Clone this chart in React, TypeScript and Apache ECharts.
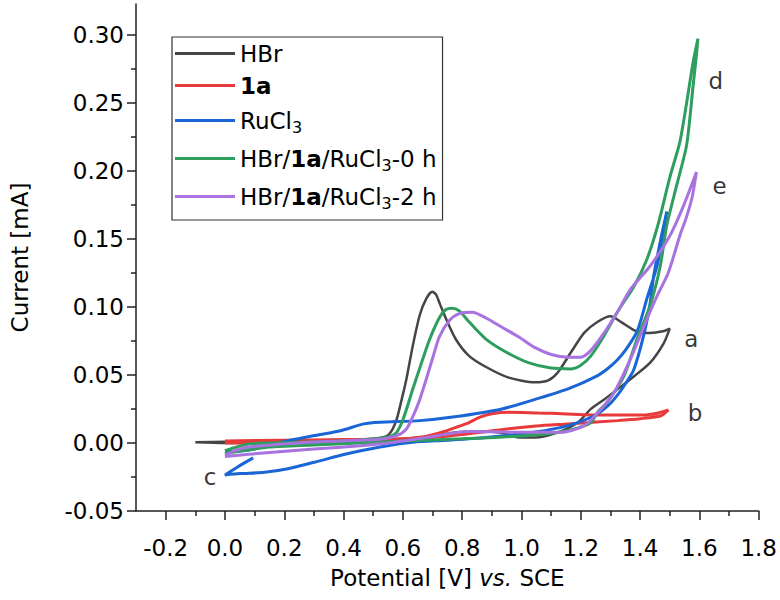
import React, { useEffect, useRef } from 'react';
import * as echarts from 'echarts';

const FONT = 'DejaVu Sans';

const seriesNames = ['HBr', '1a', 'RuCl3', 'HBr/1a/RuCl3-0 h', 'HBr/1a/RuCl3-2 h'];
const seriesColors = ['#454545', '#e8393b', '#1a66d6', '#2e9e5e', '#a873e0'];

const legendLabels: Record<string, string> = {
  'HBr': '{n|HBr}',
  '1a': '{b|1a}',
  'RuCl3': '{n|RuCl}{s|3}',
  'HBr/1a/RuCl3-0 h': '{n|HBr/}{b|1a}{n|/RuCl}{s|3}{n|-0 h}',
  'HBr/1a/RuCl3-2 h': '{n|HBr/}{b|1a}{n|/RuCl}{s|3}{n|-2 h}',
};

const xTickValues = [-0.2, 0.0, 0.2, 0.4, 0.6, 0.8, 1.0, 1.2, 1.4, 1.6, 1.8];
const xMinorValues = [-0.1, 0.1, 0.3, 0.5, 0.7, 0.9, 1.1, 1.3, 1.5, 1.7];
const yTickValues = [-0.05, 0.0, 0.05, 0.1, 0.15, 0.2, 0.25, 0.3];
const yMinorValues = [-0.025, 0.025, 0.075, 0.125, 0.175, 0.225, 0.275];

// HBr (a)
const hbrData: [number, number][] = [
  [-0.1, 0.0005], [0.0, 0.0008], [0.2, 0.0012], [0.4, 0.002], [0.5, 0.003],
  [0.545, 0.005], [0.565, 0.01], [0.58, 0.018], [0.596, 0.032], [0.612, 0.047],
  [0.634, 0.072], [0.657, 0.094], [0.679, 0.106], [0.699, 0.111], [0.712, 0.109],
  [0.725, 0.102], [0.746, 0.091], [0.779, 0.076], [0.823, 0.064], [0.879, 0.056],
  [0.957, 0.048], [1.046, 0.0446], [1.09, 0.046], [1.123, 0.052], [1.168, 0.067],
  [1.212, 0.081], [1.257, 0.089], [1.3, 0.093], [1.335, 0.089], [1.388, 0.082],
  [1.433, 0.0807], [1.477, 0.082], [1.5, 0.084],
  [1.479, 0.073], [1.434, 0.059], [1.38, 0.049], [1.333, 0.041], [1.279, 0.032],
  [1.234, 0.025], [1.19, 0.015], [1.123, 0.0078], [1.046, 0.004], [0.99, 0.004],
  [0.934, 0.0075], [0.85, 0.0085], [0.78, 0.0078], [0.7, 0.005], [0.6, 0.003],
  [0.4, 0.0008], [0.2, 0.0002], [0.0, 0.0], [-0.1, 0.0005],
];

// 1a (b)
const oneAData: [number, number][] = [
  [0.0, 0.0015], [0.2, 0.002], [0.4, 0.0025], [0.6, 0.003], [0.68, 0.005],
  [0.734, 0.008], [0.78, 0.0115], [0.823, 0.015], [0.86, 0.019], [0.9, 0.0215],
  [0.957, 0.0225], [1.057, 0.022], [1.1, 0.0218], [1.268, 0.0205], [1.41, 0.0205],
  [1.46, 0.022], [1.495, 0.0243],
  [1.47, 0.02], [1.4, 0.0178], [1.323, 0.0164], [1.157, 0.014], [1.05, 0.0125],
  [0.957, 0.0105], [0.87, 0.008], [0.75, 0.005], [0.6, 0.002], [0.4, 0.0005],
  [0.2, 0.0], [0.0, 0.0],
];

// RuCl3 (c)
const ruData: [number, number][] = [
  [0.095, -0.011], [0.04, -0.018], [0.0, -0.0235], [0.05, -0.0225], [0.134, -0.0216],
  [0.212, -0.019], [0.301, -0.0142], [0.412, -0.008], [0.523, -0.003], [0.634, 0.0005],
  [0.75, 0.002], [0.879, 0.004], [1.046, 0.008], [1.157, 0.0127], [1.246, 0.02],
  [1.29, 0.027], [1.323, 0.035], [1.355, 0.045], [1.379, 0.054], [1.412, 0.079],
  [1.434, 0.103], [1.446, 0.123], [1.47, 0.15], [1.49, 0.17],
  [1.475, 0.15], [1.457, 0.13], [1.423, 0.106], [1.39, 0.082], [1.35, 0.068],
  [1.323, 0.061], [1.29, 0.0545], [1.257, 0.0495], [1.157, 0.0397], [1.046, 0.032],
  [0.934, 0.025], [0.768, 0.019], [0.657, 0.0164], [0.523, 0.0152], [0.468, 0.014],
  [0.39, 0.009], [0.301, 0.0054], [0.19, 0.0005], [0.1, -0.0044], [0.05, -0.006],
  [0.0, -0.0065],
];

// HBr/1a/RuCl3-0 h (d)
const mix0Data: [number, number][] = [
  [0.0, -0.0057], [0.04, -0.003], [0.079, -0.0007], [0.3, 0.0007], [0.45, 0.002],
  [0.523, 0.0034], [0.56, 0.005], [0.579, 0.0078], [0.601, 0.0176], [0.634, 0.04],
  [0.66, 0.057], [0.69, 0.076], [0.723, 0.092], [0.745, 0.098], [0.765, 0.099],
  [0.79, 0.097], [0.823, 0.089], [0.879, 0.0765], [0.946, 0.067], [1.023, 0.059],
  [1.1, 0.055], [1.168, 0.0544], [1.2, 0.057], [1.234, 0.064], [1.279, 0.079],
  [1.323, 0.096], [1.379, 0.115], [1.423, 0.135], [1.46, 0.16], [1.5, 0.195],
  [1.534, 0.221], [1.557, 0.25], [1.579, 0.28], [1.595, 0.297],
  [1.59, 0.285], [1.579, 0.263], [1.557, 0.219], [1.523, 0.189], [1.49, 0.16],
  [1.468, 0.13], [1.434, 0.101], [1.39, 0.0765], [1.346, 0.0495], [1.29, 0.03],
  [1.257, 0.0226], [1.234, 0.015], [1.179, 0.0103], [1.1, 0.007], [0.95, 0.0045],
  [0.8, 0.003], [0.6, 0.0015], [0.45, 0.0], [0.3, -0.0015], [0.15, -0.003],
  [0.05, -0.006], [0.0, -0.008],
];

// HBr/1a/RuCl3-2 h (e)
const mix2Data: [number, number][] = [
  [0.0, -0.009], [0.03, -0.006], [0.079, -0.003], [0.3, 0.0007], [0.45, 0.002],
  [0.523, 0.0027], [0.579, 0.0054], [0.612, 0.0103], [0.635, 0.02], [0.657, 0.032],
  [0.679, 0.047], [0.7, 0.062], [0.723, 0.078], [0.757, 0.09], [0.79, 0.095],
  [0.834, 0.096], [0.879, 0.092], [0.934, 0.085], [0.99, 0.078], [1.046, 0.07],
  [1.1, 0.065], [1.157, 0.063], [1.2, 0.063], [1.234, 0.068], [1.279, 0.081],
  [1.323, 0.096], [1.368, 0.113], [1.434, 0.13], [1.5, 0.152], [1.546, 0.174],
  [1.59, 0.199],
  [1.575, 0.18], [1.555, 0.165], [1.535, 0.153], [1.495, 0.125], [1.455, 0.107],
  [1.423, 0.091], [1.368, 0.062], [1.312, 0.037], [1.257, 0.022], [1.212, 0.0127],
  [1.134, 0.0078], [0.99, 0.0078], [0.823, 0.0085], [0.679, 0.004], [0.55, 0.0],
  [0.457, -0.002], [0.3, -0.0045], [0.15, -0.007], [0.0, -0.01],
];

const seriesData = [hbrData, oneAData, ruData, mix0Data, mix2Data];

const annotationNames = ['a', 'b', 'c', 'd', 'e'];
const annotationPositions: [number, number][] = [
  [1.573, 0.0765], [1.585, 0.022], [-0.05, -0.025], [1.655, 0.266], [1.668, 0.189],
];

export default function App() {
  const ref = useRef<HTMLDivElement>(null);

  useEffect(() => {
    if (!ref.current) return;
    const chart = echarts.init(ref.current, null, { renderer: 'svg' });

    const axisLineStyle = { color: '#222', width: 1.5 };
    const labelStyle = { fontFamily: FONT, fontSize: 23, color: '#000' };

    const lineSeries = seriesNames.map((name, i) => ({
      name,
      type: 'line',
      data: seriesData[i],
      showSymbol: false,
      symbol: 'none',
      smooth: 0.25,
      color: seriesColors[i],
      itemStyle: { color: seriesColors[i] },
      lineStyle: { color: seriesColors[i], width: i === 0 ? 2.5 : 3 },
      z: 2 + i,
    }));

    const option: any = {
      animation: false,
      grid: { left: 132, right: 20, top: 4, bottom: 89, containLabel: false },
      legend: {
        data: seriesNames,
        orient: 'vertical',
        left: 172,
        top: 37,
        itemWidth: 60,
        itemHeight: 3,
        itemGap: 9,
        icon: 'rect',
        selectedMode: false,
        borderColor: '#333',
        borderWidth: 1.2,
        padding: [5, 6, 9, 3],
        formatter: (name: string) => legendLabels[name] || name,
        textStyle: {
          fontFamily: FONT,
          fontSize: 23,
          color: '#000',
          rich: {
            n: { fontFamily: FONT, fontSize: 23, color: '#000', lineHeight: 25 },
            b: { fontFamily: FONT, fontSize: 23, color: '#000', lineHeight: 25, fontWeight: 'bold' },
            s: { fontFamily: FONT, fontSize: 16, color: '#000', lineHeight: 16, padding: [13, 0, 0, 0] },
          },
        },
      },
      xAxis: [
        {
          type: 'value',
          min: -0.3,
          max: 1.8,
          position: 'bottom',
          axisLine: { show: true, onZero: false, lineStyle: axisLineStyle },
          axisTick: { show: true, customValues: xTickValues, length: 9, lineStyle: axisLineStyle },
          axisLabel: {
            ...labelStyle,
            customValues: xTickValues,
            margin: 25,
            formatter: (v: number) => v.toFixed(1),
          },
          splitLine: { show: false },
          name: 'Potential [V] {i|vs.} SCE',
          nameLocation: 'middle',
          nameGap: 55,
          nameTextStyle: {
            ...labelStyle,
            rich: { i: { fontFamily: FONT, fontSize: 23, color: '#000', fontStyle: 'italic' } },
          },
        },
        {
          type: 'value',
          min: -0.3,
          max: 1.8,
          position: 'bottom',
          axisLine: { show: false, onZero: false },
          axisTick: { show: true, customValues: xMinorValues, length: 5, lineStyle: axisLineStyle },
          axisLabel: { show: false },
          splitLine: { show: false },
        },
      ],
      yAxis: [
        {
          type: 'value',
          min: -0.05,
          max: 0.3225,
          position: 'left',
          axisLine: { show: true, onZero: false, lineStyle: axisLineStyle },
          axisTick: { show: true, customValues: yTickValues, length: 9, lineStyle: axisLineStyle },
          axisLabel: {
            ...labelStyle,
            customValues: yTickValues,
            margin: 12,
            formatter: (v: number) => v.toFixed(2),
          },
          splitLine: { show: false },
          name: 'Current [mA]',
          nameLocation: 'middle',
          nameGap: 105,
          nameTextStyle: { ...labelStyle },
        },
        {
          type: 'value',
          min: -0.05,
          max: 0.3225,
          position: 'left',
          axisLine: { show: false, onZero: false },
          axisTick: { show: true, customValues: yMinorValues, length: 5, lineStyle: axisLineStyle },
          axisLabel: { show: false },
          splitLine: { show: false },
        },
      ],
      series: [
        ...lineSeries,
        {
          name: 'labels',
          type: 'scatter',
          symbolSize: 1,
          itemStyle: { color: 'rgba(0,0,0,0)' },
          silent: true,
          z: 20,
          data: annotationNames.map((n, i) => ({ name: n, value: annotationPositions[i] })),
          label: {
            show: true,
            position: 'inside',
            formatter: '{b}',
            ...labelStyle,
          },
        },
      ],
    };

    chart.setOption(option);
    return () => chart.dispose();
  }, []);

  return (
    <div
      ref={ref}
      style={{ position: 'fixed', left: 0, top: 0, width: 780, height: 600, background: '#fff' }}
    />
  );
}
